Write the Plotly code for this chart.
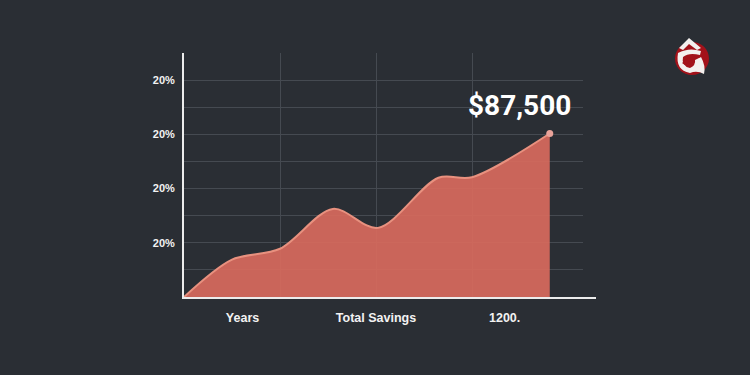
import plotly.graph_objects as go

# ---- data ----
periods = [0, 0.5, 1.0, 1.55, 2.02, 2.65, 3.0, 3.81]
savings = [0, 1.38, 1.78, 3.25, 2.55, 4.4, 4.42, 6.03]
x_tick_pos = [0.61, 2.0, 3.34]
x_tick_text = ["Years", "Total Savings", "1200."]
x_grid = [1, 2, 3]
y_tick_pos = [2, 4, 6, 8]
y_tick_text = ["20%", "20%", "20%", "20%"]
y_grid = [1, 2, 3, 4, 5, 6, 7, 8]
final_label = "$87,500"

BG = "#2a2e34"
GRID = "#454a51"
AXIS = "#ececec"

fig = go.Figure()
fig.add_trace(go.Scatter(
    x=periods, y=savings, mode="lines",
    line=dict(shape="spline", smoothing=0.9, color="#e8917f", width=2),
    fill="tozeroy", fillcolor="rgba(216,106,93,0.92)",
    hoverinfo="skip", showlegend=False,
))
fig.add_trace(go.Scatter(
    x=[periods[-1]], y=[savings[-1]], mode="markers",
    marker=dict(size=7, color="#e9a39a"),
    showlegend=False, hoverinfo="skip",
))
fig.add_annotation(
    x=periods[-1], y=savings[-1], text=final_label, showarrow=False,
    xanchor="center", yanchor="bottom", xshift=-30, yshift=10,
    font=dict(family="Roboto", size=28, color="#ffffff", weight="bold"),
)

# plot area: left 184, right 583, top 53, bottom 297 (pixels)
RX, TY = 583, 53


def P(px, py):
    return f"{px - RX},{TY - py}"


deco = dict(xref="paper", yref="paper", xanchor=1, yanchor=1,
            xsizemode="pixel", ysizemode="pixel", layer="above")

# x-axis line extension beyond the grid
fig.add_shape(type="line", xref="paper", yref="paper", xanchor=1, yanchor=0,
              xsizemode="pixel", ysizemode="pixel",
              x0=-1, x1=13, y0=-1, y1=-1, line=dict(color=AXIS, width=2), layer="above")

# logo
fig.add_shape(type="circle", x0=675 - RX, x1=709 - RX, y0=TY - 75, y1=TY - 42,
              fillcolor="#a3121a", line=dict(width=0), **deco)
roof = ("M " + P(679, 48) + " L " + P(689, 38) + " L " + P(701, 48) + " L " + P(697, 50)
        + " L " + P(689, 44) + " L " + P(683, 50) + " Z")
fig.add_shape(type="path", path=roof, fillcolor="#f4f0ee", line=dict(width=0), **deco)
body = ("M " + P(678, 53) + " Q " + P(689, 47) + " " + P(701, 51) + " L " + P(700, 55)
        + " Q " + P(689, 52) + " " + P(683, 57) + " Q " + P(681, 66) + " " + P(690, 68)
        + " Q " + P(696, 65) + " " + P(695, 60) + " L " + P(701, 57)
        + " Q " + P(706, 66) + " " + P(704, 74) + " Q " + P(697, 70) + " " + P(690, 73)
        + " Q " + P(675, 70) + " " + P(678, 53) + " Z")
fig.add_shape(type="path", path=body, fillcolor="#f4f0ee", line=dict(width=0), **deco)
swoosh = ("M " + P(682, 63) + " Q " + P(691, 55) + " " + P(701, 57) + " Q " + P(692, 58)
          + " " + P(685, 65) + " Z")
fig.add_shape(type="path", path=swoosh, fillcolor="#a3121a", line=dict(width=0), **deco)

fig.update_layout(
    width=750, height=375,
    margin=dict(l=184, r=750 - RX, t=TY, b=78),
    paper_bgcolor=BG, plot_bgcolor=BG,
    font=dict(family="Liberation Sans", color="#ffffff"),
    xaxis=dict(
        range=[0, (RX - 184) / 96], showgrid=False, zeroline=False,
        tickmode="array", tickvals=x_tick_pos, ticktext=x_tick_text,
        tickfont=dict(family="Liberation Sans", size=12.5, color="#f2f2f2", weight="bold"),
        ticks="", ticklabelstandoff=8,
        showline=True, linecolor=AXIS, linewidth=2,
        minor=dict(tickmode="array", tickvals=x_grid, showgrid=True,
                   gridcolor=GRID, gridwidth=1, ticks=""),
    ),
    yaxis=dict(
        range=[0, 9], zeroline=False,
        tickmode="array", tickvals=y_tick_pos, ticktext=y_tick_text,
        showgrid=True, gridcolor=GRID, gridwidth=1,
        tickfont=dict(family="Liberation Sans", size=11, color="#f2f2f2", weight="bold"),
        ticks="", ticklabelstandoff=5,
        showline=True, linecolor=AXIS, linewidth=2,
        minor=dict(tickmode="array", tickvals=y_grid, showgrid=True,
                   gridcolor=GRID, gridwidth=1, ticks=""),
    ),
)

fig.write_html(
    "out.html",
    config={"displayModeBar": False, "staticPlot": True},
    post_script="document.body.style.margin='0';document.body.style.background='#2a2e34';"
                "document.documentElement.style.overflow='hidden';",
)
